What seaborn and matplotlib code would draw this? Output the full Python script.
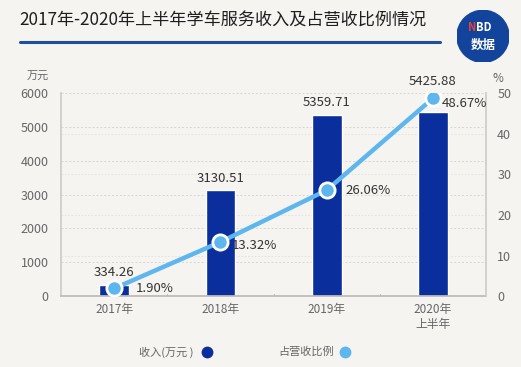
import matplotlib
matplotlib.use("Agg")
import matplotlib.pyplot as plt
import seaborn as sns
import pandas as pd
import numpy as np
from matplotlib.patches import Circle

categories = ["2017年", "2018年", "2019年", "2020年\n上半年"]
revenue = [334.26, 3130.51, 5359.71, 5425.88]
ratio = [1.90, 13.32, 26.06, 48.67]
left_ticks = [0, 1000, 2000, 3000, 4000, 5000, 6000]
right_ticks = [0, 10, 20, 30, 40, 50]

sns.set_theme(style="white")
plt.rcParams['font.family'] = ['Noto Sans CJK SC', 'DejaVu Sans']

BG = "#F6F4F1"
DARK = "#0A2E9C"
LIGHT = "#5DB6EE"
GRAY = "#666666"

fig = plt.figure(figsize=(5.21, 3.67), dpi=100, facecolor=BG)
ax = fig.add_axes([0.117, 0.193, 0.816, 0.554])
ax.set_facecolor(BG)

df = pd.DataFrame({"cat": categories, "revenue": revenue, "ratio": ratio})
sns.barplot(data=df, x="cat", y="revenue", color=DARK, width=0.28, ax=ax,
            saturation=1, zorder=2)
ax.set_xlim(-0.5, 3.5)
ax.set_ylim(0, 6000)
ax.set_yticks(left_ticks)
ax.set_yticklabels([str(t) for t in left_ticks])
ax.set_xlabel("")
ax.set_ylabel("")
for t in left_ticks[1:]:
    ax.axhline(t, color="#D8D6D2", lw=0.7, ls=(0, (2, 2)), zorder=0)
for t in right_ticks[1:-1]:
    ax.axhline(t * 120, color="#E2E0DC", lw=0.6, ls=(0, (2, 2)), zorder=0)
for s in ["top", "right"]:
    ax.spines[s].set_visible(False)
ax.spines["left"].set_color("#CFCCC8")
ax.spines["bottom"].set_color("#BDBAB6")
ax.tick_params(axis="y", length=0, labelsize=9, labelcolor=GRAY, pad=9)
ax.tick_params(axis="x", length=0, labelsize=8.5, labelcolor=GRAY, pad=5)
for xb in [0.5, 1.5, 2.5]:
    ax.plot([xb, xb], [0, 60], color="#BDBAB6", lw=0.8, zorder=1)

for i, v in enumerate(revenue):
    yy = v + 160 if i < 3 else 6000 + 150
    ax.text(i, yy, f"{v:.2f}", ha="center", va="bottom", fontsize=9.5,
            color="#333333", zorder=5, clip_on=False)

ax2 = ax.twinx()
ax2.set_ylim(0, 50)
ax2.set_yticks(right_ticks)
ax2.set_yticklabels([str(t) for t in right_ticks])
sns.lineplot(x=list(range(4)), y=ratio, ax=ax2, color=LIGHT, lw=3.2, zorder=3,
             marker="o", markersize=11, markerfacecolor=LIGHT,
             markeredgecolor="white", markeredgewidth=2)
for s in ["top", "left", "bottom"]:
    ax2.spines[s].set_visible(False)
ax2.spines["right"].set_color("#CFCCC8")
ax2.tick_params(axis="y", length=0, labelsize=9, labelcolor=GRAY, pad=8)
ax2.set_ylabel("")
pct_dx = [0.2, 0.11, 0.18, 0.08]
pct_dy = [0, -0.8, 0, -1.3]
for i, v in enumerate(ratio):
    ax2.text(i + pct_dx[i], v + pct_dy[i], f"{v:.2f}%", ha="left", va="center",
             fontsize=9.5, color="#333333", zorder=6, clip_on=False)

fig.text(0.052, 0.79, "万元", fontsize=8, color=GRAY, ha="left", va="center")
fig.text(0.955, 0.785, "%", fontsize=8.5, color=GRAY, ha="center", va="center")

# title
fig.text(0.038, 0.943, "2017年-2020年上半年学车服务收入及占营收比例情况", fontsize=12.3,
         color="#1E1E1E", ha="left", va="center", fontweight="medium")
fig.add_artist(plt.Line2D([0.038, 0.845], [0.885, 0.885], color="#1F4E9A", lw=2.2,
                          transform=fig.transFigure))
logo_ax = fig.add_axes([0.877, 0.83, 0.1, 0.142])
logo_ax.set_xlim(0, 1)
logo_ax.set_ylim(0, 1)
logo_ax.set_aspect("equal")
logo_ax.axis("off")
logo_ax.add_patch(Circle((0.5, 0.5), 0.5, color="#12449C"))
logo_ax.text(0.37, 0.66, "N", color="#E8413C", fontsize=8, fontweight="bold",
             ha="right", va="center")
logo_ax.text(0.37, 0.66, "BD", color="white", fontsize=8, fontweight="bold",
             ha="left", va="center")
logo_ax.text(0.5, 0.32, "数据", color="white", fontsize=9, fontweight="bold",
             ha="center", va="center")

# legend
fig.text(0.372, 0.041, "收入(万元 )", fontsize=8, color=GRAY, ha="right", va="center")
fig.add_artist(plt.Line2D([0.397], [0.041], marker="o", markersize=7.5, color=DARK,
                          transform=fig.transFigure))
fig.text(0.64, 0.041, "占营收比例", fontsize=8, color=GRAY, ha="right", va="center")
fig.add_artist(plt.Line2D([0.663], [0.041], marker="o", markersize=7.5, color=LIGHT,
                          transform=fig.transFigure))

fig.savefig("out.png", dpi=100, facecolor=BG)
